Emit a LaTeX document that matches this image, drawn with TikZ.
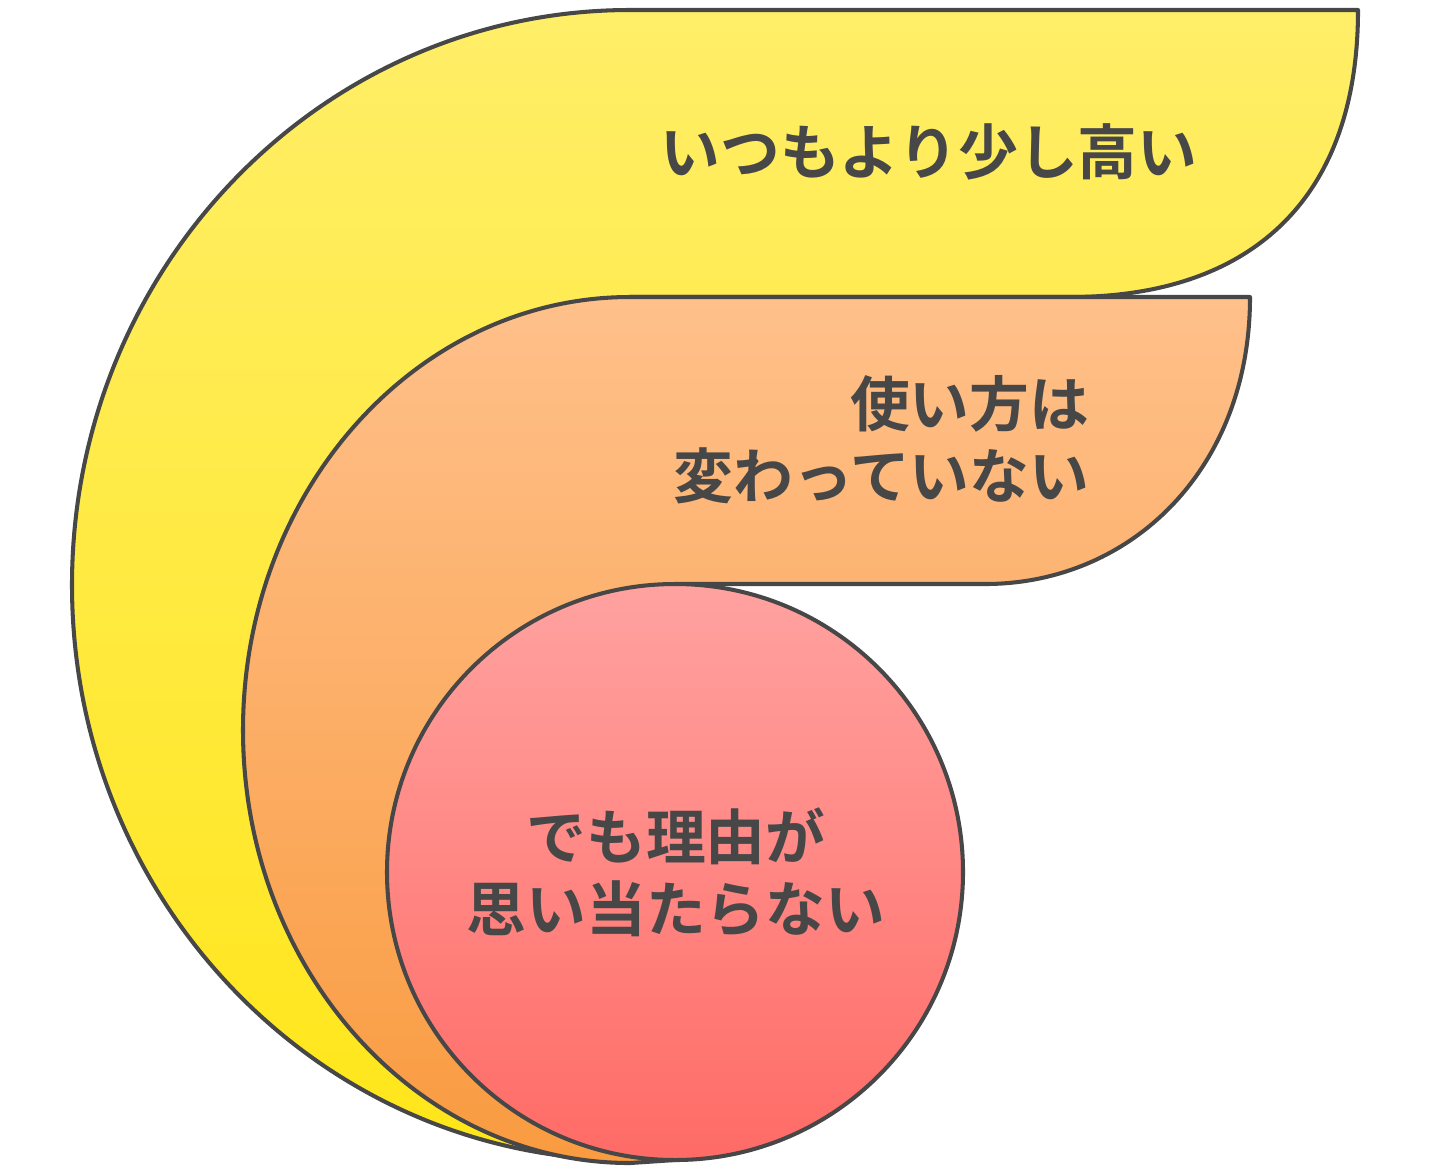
\documentclass[tikz,border=0pt]{standalone}
\usepackage{fontspec}
\newfontfamily\jp{Noto Sans CJK JP}[BoldFont={* Bold}]
\begin{document}
\begin{tikzpicture}[x=0.01cm,y=-0.01cm,line width=1.15pt,
  edge/.style={draw=black!72,line join=round},
  lbl/.style={font=\jp\bfseries\fontsize{17}{20.5}\selectfont,text=black!72}]
\useasboundingbox (0,0) rectangle (1431,1172);
\path[edge,top color={rgb,255:red,255;green,238;blue,104},bottom color={rgb,255:red,255;green,230;blue,25}]
  (630,10) -- (1358,10) .. controls (1358,200) and (1250,297) .. (1070,297)
  -- (630,297) -- (630,1160) arc[start angle=90,end angle=270,x radius=558,y radius=575] -- cycle;
\path[edge,top color={rgb,255:red,255;green,192;blue,138},bottom color={rgb,255:red,249;green,155;blue,64}]
  (630,297) -- (1250,297) .. controls (1250,470) and (1130,584) .. (985,584)
  -- (675,584) -- (675,1160) -- (630,1163) arc[start angle=90,end angle=270,x radius=387,y radius=433] -- cycle;
\path[edge,top color={rgb,255:red,255;green,162;blue,160},bottom color={rgb,255:red,255;green,107;blue,102}]
  (675,872) circle[radius=288];
\node[lbl] (t1) at (929,152) {いつもより少し高い};
\node[lbl,align=right,anchor=east] (t2) at (1103,440) {使い方は\\変わっていない};
\node[lbl,align=center] (t3) at (676,872) {でも理由が\\思い当たらない};
\end{tikzpicture}
\end{document}
